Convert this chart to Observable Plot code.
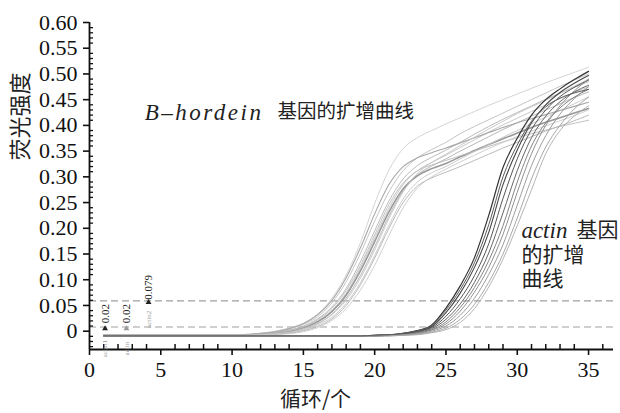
<!DOCTYPE html>
<html><head><meta charset="utf-8">
<script src="https://cdn.jsdelivr.net/npm/d3@7"></script>
<script src="https://cdn.jsdelivr.net/npm/@observablehq/plot@0.6"></script>
<style>
body{margin:0;background:#fff;}
#chart{width:620px;height:413px;}
</style></head><body><div id="chart"></div>
<script>
// ---------- data ----------
const cycles = [1,2,3,4,5,6,7,8,9,10,11,12,13,14,15,16,17,18,19,20,21,22,23,24,25,26,27,28,29,30,31,32,33,34,35];

const bSeries = ["B1","B2","B3","B4","B5","B6","B7","B8","B9","B10","B11","B12"];
const bValues = [
 [-0.008,-0.008,-0.008,-0.008,-0.008,-0.008,-0.008,-0.008,-0.008,-0.008,-0.007,-0.004,0.000,0.006,0.015,0.033,0.064,0.109,0.172,0.248,0.313,0.355,0.376,0.390,0.403,0.415,0.427,0.439,0.450,0.461,0.472,0.483,0.493,0.503,0.513],
 [-0.008,-0.008,-0.008,-0.008,-0.008,-0.008,-0.008,-0.008,-0.008,-0.008,-0.007,-0.005,-0.002,0.004,0.013,0.028,0.055,0.096,0.151,0.214,0.271,0.312,0.337,0.353,0.367,0.384,0.398,0.411,0.424,0.437,0.450,0.463,0.476,0.488,0.500],
 [-0.008,-0.008,-0.008,-0.008,-0.008,-0.008,-0.008,-0.008,-0.008,-0.008,-0.007,-0.006,-0.003,0.002,0.010,0.024,0.047,0.083,0.135,0.195,0.253,0.296,0.322,0.338,0.352,0.367,0.383,0.398,0.412,0.425,0.438,0.451,0.463,0.474,0.485],
 [-0.008,-0.008,-0.008,-0.008,-0.008,-0.008,-0.008,-0.008,-0.008,-0.008,-0.008,-0.007,-0.004,0.000,0.007,0.020,0.040,0.074,0.123,0.181,0.239,0.285,0.312,0.328,0.342,0.357,0.372,0.387,0.401,0.414,0.427,0.440,0.452,0.464,0.475],
 [-0.008,-0.008,-0.008,-0.008,-0.008,-0.008,-0.008,-0.008,-0.008,-0.008,-0.008,-0.007,-0.005,-0.002,0.005,0.015,0.033,0.064,0.108,0.164,0.224,0.273,0.304,0.321,0.335,0.350,0.364,0.378,0.392,0.405,0.418,0.430,0.442,0.454,0.465],
 [-0.008,-0.008,-0.008,-0.008,-0.008,-0.008,-0.008,-0.008,-0.008,-0.008,-0.008,-0.007,-0.004,0.000,0.007,0.018,0.038,0.070,0.117,0.174,0.232,0.277,0.302,0.316,0.326,0.339,0.351,0.363,0.374,0.385,0.396,0.406,0.415,0.424,0.433],
 [-0.008,-0.008,-0.008,-0.008,-0.008,-0.008,-0.008,-0.008,-0.008,-0.008,-0.008,-0.007,-0.006,-0.003,0.002,0.012,0.027,0.054,0.094,0.147,0.206,0.257,0.290,0.308,0.320,0.335,0.349,0.363,0.377,0.390,0.403,0.416,0.429,0.442,0.455],
 [-0.008,-0.008,-0.008,-0.008,-0.008,-0.008,-0.008,-0.008,-0.008,-0.008,-0.008,-0.007,-0.006,-0.004,0.001,0.009,0.024,0.050,0.090,0.142,0.200,0.250,0.282,0.298,0.309,0.320,0.332,0.344,0.356,0.367,0.378,0.389,0.399,0.409,0.420],
 [-0.008,-0.008,-0.008,-0.008,-0.008,-0.008,-0.008,-0.008,-0.008,-0.008,-0.007,-0.006,-0.003,0.001,0.008,0.022,0.044,0.079,0.128,0.187,0.246,0.288,0.312,0.323,0.332,0.341,0.350,0.359,0.368,0.376,0.384,0.391,0.398,0.404,0.410],
 [-0.008,-0.008,-0.008,-0.008,-0.008,-0.008,-0.008,-0.008,-0.008,-0.008,-0.006,-0.004,-0.001,0.005,0.015,0.032,0.060,0.104,0.162,0.228,0.285,0.320,0.337,0.347,0.356,0.366,0.376,0.386,0.396,0.405,0.413,0.421,0.429,0.437,0.445],
 [-0.008,-0.008,-0.008,-0.008,-0.008,-0.008,-0.008,-0.008,-0.008,-0.008,-0.008,-0.007,-0.005,-0.002,0.004,0.014,0.032,0.060,0.103,0.158,0.219,0.271,0.307,0.328,0.344,0.361,0.377,0.393,0.408,0.423,0.436,0.449,0.462,0.476,0.490],
 [-0.008,-0.008,-0.008,-0.008,-0.008,-0.008,-0.008,-0.008,-0.008,-0.008,-0.008,-0.007,-0.006,-0.005,-0.001,0.007,0.021,0.044,0.080,0.128,0.186,0.240,0.278,0.300,0.315,0.329,0.342,0.355,0.367,0.378,0.389,0.399,0.409,0.419,0.430]
];

const aSeries = ["A1","A2","A3","A4","A5","A6","A7","A8","A9","A10"];
const aValues = [
 [-0.009,-0.009,-0.009,-0.009,-0.009,-0.009,-0.009,-0.009,-0.009,-0.009,-0.009,-0.009,-0.009,-0.009,-0.009,-0.009,-0.009,-0.009,-0.009,-0.008,-0.007,-0.004,0.001,0.012,0.045,0.088,0.143,0.225,0.318,0.375,0.420,0.450,0.471,0.489,0.505],
 [-0.009,-0.009,-0.009,-0.009,-0.009,-0.009,-0.009,-0.009,-0.009,-0.009,-0.009,-0.009,-0.009,-0.009,-0.009,-0.009,-0.009,-0.009,-0.009,-0.008,-0.007,-0.005,0.000,0.009,0.036,0.074,0.124,0.192,0.285,0.352,0.405,0.440,0.464,0.482,0.497],
 [-0.009,-0.009,-0.009,-0.009,-0.009,-0.009,-0.009,-0.009,-0.009,-0.009,-0.009,-0.009,-0.009,-0.009,-0.009,-0.009,-0.009,-0.009,-0.009,-0.009,-0.008,-0.006,-0.001,0.007,0.029,0.063,0.108,0.170,0.258,0.335,0.392,0.430,0.456,0.474,0.488],
 [-0.009,-0.009,-0.009,-0.009,-0.009,-0.009,-0.009,-0.009,-0.009,-0.009,-0.009,-0.009,-0.009,-0.009,-0.009,-0.009,-0.009,-0.009,-0.009,-0.009,-0.008,-0.006,-0.002,0.005,0.023,0.053,0.095,0.152,0.230,0.312,0.376,0.418,0.446,0.465,0.478],
 [-0.009,-0.009,-0.009,-0.009,-0.009,-0.009,-0.009,-0.009,-0.009,-0.009,-0.009,-0.009,-0.009,-0.009,-0.009,-0.009,-0.009,-0.009,-0.009,-0.009,-0.008,-0.007,-0.003,0.003,0.018,0.046,0.085,0.137,0.205,0.290,0.360,0.405,0.434,0.455,0.470],
 [-0.009,-0.009,-0.009,-0.009,-0.009,-0.009,-0.009,-0.009,-0.009,-0.009,-0.009,-0.009,-0.009,-0.009,-0.009,-0.009,-0.009,-0.009,-0.009,-0.009,-0.008,-0.007,-0.004,0.002,0.014,0.039,0.076,0.124,0.188,0.270,0.345,0.400,0.438,0.467,0.490],
 [-0.009,-0.009,-0.009,-0.009,-0.009,-0.009,-0.009,-0.009,-0.009,-0.009,-0.009,-0.009,-0.009,-0.009,-0.009,-0.009,-0.009,-0.009,-0.009,-0.009,-0.009,-0.007,-0.005,0.000,0.010,0.031,0.064,0.110,0.168,0.245,0.322,0.380,0.422,0.452,0.475],
 [-0.009,-0.009,-0.009,-0.009,-0.009,-0.009,-0.009,-0.009,-0.009,-0.009,-0.009,-0.009,-0.009,-0.009,-0.009,-0.009,-0.009,-0.009,-0.009,-0.009,-0.009,-0.008,-0.006,-0.002,0.006,0.023,0.052,0.095,0.150,0.220,0.296,0.358,0.400,0.432,0.455],
 [-0.009,-0.009,-0.009,-0.009,-0.009,-0.009,-0.009,-0.009,-0.009,-0.009,-0.009,-0.009,-0.009,-0.009,-0.009,-0.009,-0.009,-0.009,-0.009,-0.009,-0.009,-0.008,-0.007,-0.003,0.003,0.017,0.044,0.086,0.140,0.205,0.275,0.345,0.390,0.418,0.438],
 [-0.009,-0.009,-0.009,-0.009,-0.009,-0.009,-0.009,-0.009,-0.009,-0.009,-0.009,-0.009,-0.009,-0.009,-0.009,-0.009,-0.009,-0.009,-0.009,-0.008,-0.007,-0.004,0.001,0.011,0.041,0.081,0.133,0.207,0.300,0.362,0.408,0.436,0.453,0.463,0.470]
];

const thresholds = [0.008, 0.059];
const xTicks = [0,5,10,15,20,25,30,35];
const xMinorTicks = [1,2,3,4,6,7,8,9,11,12,13,14,16,17,18,19,21,22,23,24,26,27,28,29,31,32,33,34,36];
const yTicks = [0,0.05,0.10,0.15,0.20,0.25,0.30,0.35,0.40,0.45,0.50,0.55,0.60];
const yMinorTicks = [-0.03,-0.02,-0.01,0.01,0.02,0.03,0.04,0.06,0.07,0.08,0.09,0.11,0.12,0.13,0.14,0.16,0.17,0.18,0.19,0.21,0.22,0.23,0.24,0.26,0.27,0.28,0.29,0.31,0.32,0.33,0.34,0.36,0.37,0.38,0.39,0.41,0.42,0.43,0.44,0.46,0.47,0.48,0.49,0.51,0.52,0.53,0.54,0.56,0.57,0.58,0.59];
const xDomain = [0, 36.75];
const yDomain = [-0.0356, 0.60];
const yLabel = "荧光强度";
const xLabel = "循环/个";
const bNameItalic = "B–hordein";
const bNameRest = "基因的扩增曲线";
const aNameItalic = "actin";
const aNameLines = ["基因", "的扩增", "曲线"];
const smallLabels = ["0.02", "0.02", "0.079"];
const smallTags = ["actin1", "actin", "actin2"];

// ---------- styles ----------
const bColors = ["#cfcfcf","#bdbdbd","#b4b4b4","#c2c2c2","#b0b0b0","#999999","#c6c6c6","#b2b2b2","#bababa","#a8a8a8","#c4c4c4","#c9c9c9"];
const bWidths = [0.9,0.9,0.9,0.9,0.9,1.6,0.9,0.9,0.9,1.1,0.9,0.9];
const aColors = ["#333333","#464646","#555555","#666666","#767676","#848484","#929292","#9e9e9e","#ababab","#5c5c5c"];
const aWidths = [1.2,1.1,1,1,0.9,0.9,0.9,0.9,0.9,1];
const SERIF = "Liberation Serif, Times New Roman, serif";
const CJK = "Noto Sans CJK SC, Noto Sans CJK JP, sans-serif";

const marks = [];
marks.push(Plot.ruleY(thresholds, {stroke:"#a0a0a0", strokeWidth:1.1, strokeDasharray:"7,4"}));
bSeries.forEach((s,i) => marks.push(Plot.line(cycles, {x:d=>d, y:(d,j)=>bValues[i][j], stroke:bColors[i], strokeWidth:bWidths[i], curve:"monotone-x"})));
aSeries.forEach((s,i) => marks.push(Plot.line(cycles, {x:d=>d, y:(d,j)=>aValues[i][j], stroke:aColors[i], strokeWidth:aWidths[i], curve:"monotone-x"})));

// axes
marks.push(Plot.ruleX([xDomain[0]], {stroke:"#111", strokeWidth:1.8}));
marks.push(Plot.ruleY([yDomain[0]], {stroke:"#111", strokeWidth:1.8}));
marks.push(Plot.axisX(xTicks, {anchor:"bottom", tickSize:6, tickPadding:6, strokeWidth:1.6, fontSize:22, fontFamily:SERIF, fill:"#111", stroke:"#111", label:null}));
marks.push(Plot.axisX(xMinorTicks, {anchor:"bottom", tickSize:5, dy:-5, strokeWidth:1.5, tickFormat:()=>"", stroke:"#111", label:null}));
marks.push(Plot.axisY(yTicks, {anchor:"left", tickSize:6, tickPadding:6, strokeWidth:1.6, fontSize:22, fontFamily:SERIF, fill:"#111", stroke:"#111", label:null, tickFormat:d=>d===0?"0":d.toFixed(2)}));
marks.push(Plot.axisY(yMinorTicks, {anchor:"left", tickSize:4, dx:4, strokeWidth:1.3, tickFormat:()=>"", stroke:"#111", label:null}));

// axis titles
marks.push(Plot.text([yLabel], {text:d=>d, frameAnchor:"left", y:0.332, dx:-69, rotate:-90, fontSize:22, fontFamily:CJK, fill:"#222"}));
marks.push(Plot.text([xLabel], {text:d=>d, x:15.85, frameAnchor:"bottom", dy:50, lineAnchor:"middle", fontSize:21, fontFamily:CJK, fill:"#222"}));

// curve annotations
marks.push(Plot.text([bNameItalic], {text:d=>d, x:12.2, y:0.4257, textAnchor:"end", lineAnchor:"middle", fontStyle:"italic", fontSize:23, fontFamily:SERIF, fill:"#222"}));
marks.push(Plot.text([bNameRest], {text:d=>d, x:13.18, y:0.4257, textAnchor:"start", lineAnchor:"middle", fontSize:19.5, fontFamily:CJK, fill:"#222"}));
marks.push(Plot.text([aNameItalic], {text:d=>d, x:30.29, y:0.1957, textAnchor:"start", lineAnchor:"middle", fontStyle:"italic", fontSize:23, fontFamily:SERIF, fill:"#222"}));
marks.push(Plot.text([aNameLines[0]], {text:d=>d, x:34.15, y:0.1957, textAnchor:"start", lineAnchor:"middle", fontSize:21, fontFamily:CJK, fill:"#222"}));
marks.push(Plot.text([aNameLines[1]], {text:d=>d, x:30.29, y:0.147, textAnchor:"start", lineAnchor:"middle", fontSize:21, fontFamily:CJK, fill:"#222"}));
marks.push(Plot.text([aNameLines[2]], {text:d=>d, x:30.29, y:0.1015, textAnchor:"start", lineAnchor:"middle", fontSize:21, fontFamily:CJK, fill:"#222"}));

// small Ct annotations near the start
const smallX = [1.09, 2.59, 4.14];
const smallY = [0.034, 0.034, 0.085];
const tagY = [-0.034, -0.034, 0.023];
const markY = [0.005, 0.005, 0.056];
marks.push(Plot.text(smallLabels, {text:d=>d, x:(d,i)=>smallX[i], y:(d,i)=>smallY[i], rotate:-90, fontSize:11, fontFamily:SERIF, fill:"#222"}));
marks.push(Plot.text(smallTags, {text:d=>d, x:(d,i)=>smallX[i], y:(d,i)=>tagY[i], rotate:-90, fontSize:7, fontFamily:SERIF, fill:"#9a9a9a"}));
marks.push(Plot.dot(smallLabels, {x:(d,i)=>smallX[i], y:(d,i)=>markY[i], symbol:"triangle", r:2.2, fill:(d,i)=>i===1?"#999":"#222", stroke:"none"}));

const chart = Plot.plot({
  width:620, height:413,
  marginLeft:89, marginRight:7, marginTop:22, marginBottom:64,
  x:{domain:xDomain, label:null},
  y:{domain:yDomain, label:null},
  style:{fontFamily:SERIF, fontSize:"22px", color:"#111", background:"#fff", overflow:"visible"},
  marks
});
document.getElementById("chart").appendChild(chart);
// widen the italic gene name as in the reference typesetting
chart.querySelectorAll("text").forEach(t => {
  if (t.textContent === bNameItalic) t.style.letterSpacing = "2.5px";
});
</script></body></html>
